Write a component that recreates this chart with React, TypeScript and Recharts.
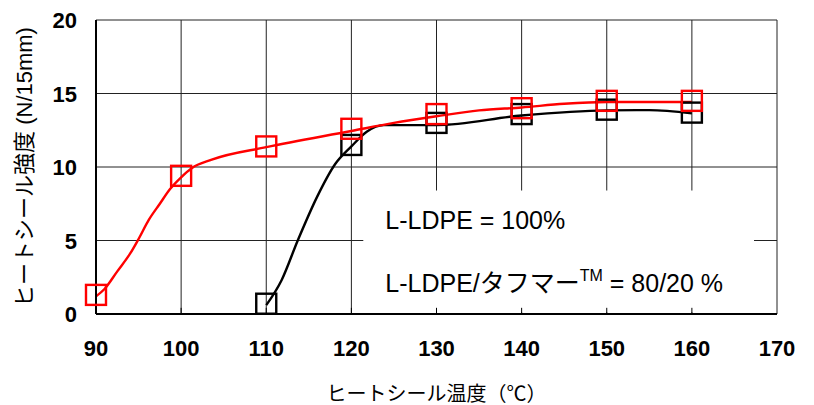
import React from "react";
import {
  ComposedChart,
  Line,
  Scatter,
  XAxis,
  YAxis,
  CartesianGrid,
  ReferenceArea,
  ReferenceLine,
} from "recharts";

const FONT = "'Liberation Sans', Arial, 'Noto Sans CJK JP', sans-serif";

const xTicks = [90, 100, 110, 120, 130, 140, 150, 160, 170];
const yTicks = [0, 5, 10, 15, 20];

// measured points (markers)
const redTemps = [90, 100, 110, 120, 130, 140, 150, 160];
const redStrength = [1.3, 9.4, 11.4, 12.6, 13.6, 14.0, 14.5, 14.5];
const blackTemps = [110, 120, 130, 140, 150, 160];
const blackStrength = [0.7, 11.5, 13.0, 13.6, 13.9, 13.7];

// smoothed curves, vertices
const redCurveX = [90, 91, 92.5, 94, 95, 96.2, 97.5, 98.7, 100, 101.2, 103.6, 110, 120, 125, 130, 135, 140, 145, 150, 160];
const redCurveY = [1.2, 1.7, 2.9, 4.1, 5.1, 6.4, 7.5, 8.5, 9.3, 9.9, 10.5, 11.35, 12.45, 13.0, 13.45, 13.85, 14.05, 14.3, 14.42, 14.42];
const blackCurveX = [110, 111.8, 113.7, 116, 118.1, 120, 121.8, 123.8, 130, 140, 150, 155, 160];
const blackCurveY = [0.6, 2.3, 5.0, 8.0, 10.2, 11.4, 12.4, 12.85, 12.85, 13.5, 13.85, 13.87, 13.65];

const zip = (xs: number[], ys: number[]) => xs.map((x, i) => ({ x, y: ys[i] }));

const redPoints = zip(redTemps, redStrength);
const blackPoints = zip(blackTemps, blackStrength);
const redCurve = zip(redCurveX, redCurveY);
const blackCurve = zip(blackCurveX, blackCurveY);

const square = (color: string) => (props: any) => {
  const { cx, cy } = props;
  return <rect x={cx - 10} y={cy - 10} width={20} height={20} fill="none" stroke={color} strokeWidth={2.4} />;
};

const XTick = (props: any) => {
  const { x, y, payload } = props;
  return (
    <text x={x} y={y + 42} textAnchor="middle" fontFamily={FONT} fontWeight="bold" fontSize={22} fill="#000">
      {payload.value}
    </text>
  );
};

const YTick = (props: any) => {
  const { x, y, payload } = props;
  return (
    <text x={x - 19} y={y + 8} textAnchor="end" fontFamily={FONT} fontWeight="bold" fontSize={22} fill="#000">
      {payload.value}
    </text>
  );
};

const LegendBox = (props: any) => {
  const { x, y, width, height } = props;
  return (
    <g>
      <rect x={x} y={y} width={width} height={height} fill="#fff" />
      <text x={x + 22} y={y + 38} fontFamily={FONT} fontSize={25} fill="#000">
        L-LDPE = 100%
      </text>
      <text x={x + 22} y={y + 101} fontFamily={FONT} fontSize={25} fill="#000">
        L-LDPE/タフマー
        <tspan fontSize={16} dy={-11}>TM</tspan>
        <tspan dy={11}> = 80/20 %</tspan>
      </text>
    </g>
  );
};

export default function App() {
  return (
    <div style={{ position: "absolute", left: 0, top: 0, background: "#fff" }}>
      <ComposedChart width={814} height={405} margin={{ top: 20, right: 37, bottom: 0, left: 0 }}>
        <CartesianGrid stroke="#222" strokeWidth={1} />
        <XAxis
          type="number"
          dataKey="x"
          domain={[90, 170]}
          ticks={xTicks}
          interval={0}
          height={91}
          tickSize={0}
          tickMargin={0}
          tickLine={false}
          axisLine={{ stroke: "#000", strokeWidth: 2 }}
          tick={<XTick />}
          label={{
            value: "ヒートシール温度（℃）",
            position: "insideBottom",
            offset: 4,
            fontFamily: FONT,
            fontSize: 20,
            fill: "#000",
          }}
        />
        <YAxis
          type="number"
          dataKey="y"
          domain={[0, 20]}
          ticks={yTicks}
          interval={0}
          width={96}
          tickSize={0}
          tickMargin={0}
          tickLine={false}
          axisLine={{ stroke: "#000", strokeWidth: 2 }}
          tick={<YTick />}
          label={{
            value: "ヒートシール強度 (N/15mm)",
            angle: -90,
            position: "insideLeft",
            offset: 24,
            fontFamily: FONT,
            fontSize: 22,
            fill: "#000",
            style: { textAnchor: "middle" },
          }}
        />
        <ReferenceArea x1={121.4} x2={167.3} y1={0.12} y2={8.4} shape={<LegendBox />} ifOverflow="visible" />
        {xTicks.slice(1, -1).map((t) => (
          <ReferenceLine
            key={t}
            segment={[
              { x: t, y: 0 },
              { x: t, y: 0.42 },
            ]}
            stroke="#000"
            strokeWidth={1}
          />
        ))}
        <Line
          data={blackCurve}
          dataKey="y"
          type="monotone"
          stroke="#000"
          strokeWidth={2.4}
          dot={false}
          activeDot={false}
          isAnimationActive={false}
        />
        <Line
          data={redCurve}
          dataKey="y"
          type="monotone"
          stroke="#ff0000"
          strokeWidth={2.4}
          dot={false}
          activeDot={false}
          isAnimationActive={false}
        />
        <Scatter data={blackPoints} dataKey="y" shape={square("#000")} isAnimationActive={false} />
        <Scatter data={redPoints} dataKey="y" shape={square("#ff0000")} isAnimationActive={false} />
      </ComposedChart>
    </div>
  );
}
